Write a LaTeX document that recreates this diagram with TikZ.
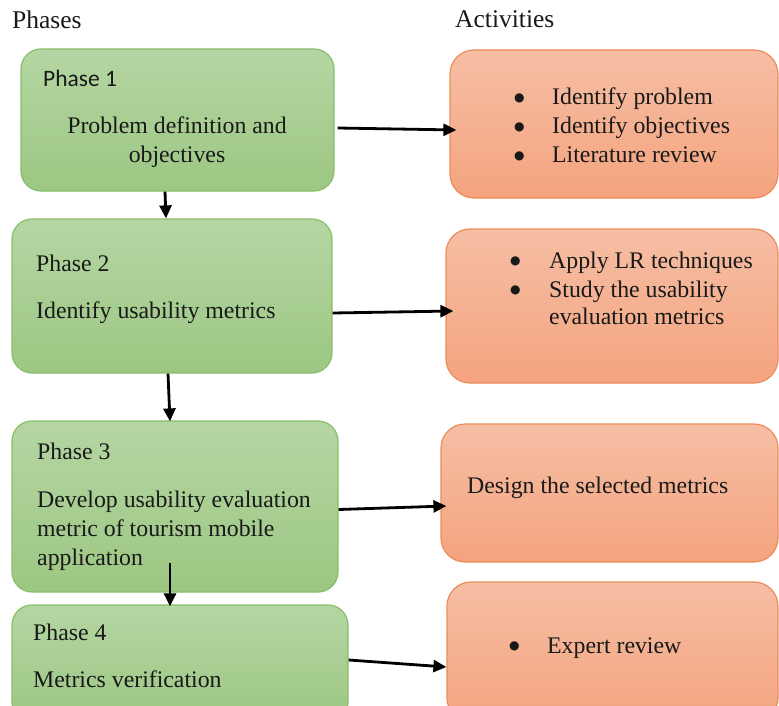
\documentclass[tikz,border=0pt]{standalone}
\usepackage{fontspec}
\setmainfont{Liberation Serif}
\newfontfamily\calfont{Carlito}
\newfontfamily\symfont{DejaVu Sans}
\usetikzlibrary{calc,arrows.meta}
\definecolor{gtop}{RGB}{181,214,163}
\definecolor{gbot}{RGB}{156,199,131}
\definecolor{gline}{RGB}{136,190,108}
\definecolor{otop}{RGB}{246,190,165}
\definecolor{obot}{RGB}{244,164,126}
\definecolor{oline}{RGB}{238,140,88}
\tikzset{
  gbox/.style={draw=gline, line width=1.2pt, rounded corners=20pt, top color=gtop, bottom color=gbot, inner sep=0pt},
  obox/.style={draw=oline, line width=1.2pt, rounded corners=24pt, top color=otop, bottom color=obot, inner sep=0pt},
  txt/.style={anchor=base west, inner sep=0pt, font=\fontsize{23.8}{29}\selectfont, text=black!90},
  ctxt/.style={anchor=base, inner sep=0pt, font=\fontsize{23.8}{29}\selectfont, text=black!90},
  htxt/.style={anchor=base west, inner sep=0pt, font=\fontsize{25.5}{30}\selectfont, text=black!90},
  stxt/.style={anchor=base west, inner sep=0pt, font=\calfont\fontsize{23.5}{28}\selectfont, text=black!90},
  arr/.style={line width=2.8pt, -{Triangle[length=13pt,width=12pt]}}
}
\newcommand{\boxat}[6]{\node[#1, minimum width={#4-#2}, minimum height={#5-#3}] (#6) at ({(#2+#4)/2},{(#3+#5)/2}) {};}
\newcommand{\bitem}[1]{\makebox[#1][l]{\raisebox{3.5pt}{\symfont\fontsize{12}{12}\selectfont ●}}}
\begin{document}
\begin{tikzpicture}[x=1pt,y=-1pt]
\clip (0,0) rectangle (779,706);
\fill[white] (0,0) rectangle (779,706);
% headers
\node[htxt] (hphases) at (12,29) {Phases};
\node[htxt] (hact) at (455,28) {Activities};
% green boxes
\boxat{gbox}{21}{49}{334}{191}{g1}
\boxat{gbox}{12}{219}{332}{373}{g2}
\boxat{gbox}{12}{421}{338}{592}{g3}
\boxat{gbox}{12}{605}{348}{722}{g4}
% orange boxes
\boxat{obox}{450}{50}{778}{198}{o1}
\boxat{obox}{446}{229}{778}{383}{o2}
\boxat{obox}{441}{424}{778}{562}{o3}
\boxat{obox}{447}{582}{778}{722}{o4}
% green texts
\node[stxt] (p1) at (43,87) {Phase 1};
\node[ctxt] (p1a) at (177,134) {Problem definition and};
\node[ctxt] (p1b) at (177,163) {objectives};
\node[txt] (p2) at (36,271) {Phase 2};
\node[txt] (p2a) at (36,318) {Identify usability metrics};
\node[txt] (p3) at (37,459) {Phase 3};
\node[txt] (p3a) at (37,507) {Develop usability evaluation};
\node[txt] (p3b) at (37,536) {metric of tourism mobile};
\node[txt] (p3c) at (37,565) {application};
\node[txt] (p4) at (33,640) {Phase 4};
\node[txt] (p4a) at (33,687) {Metrics verification};
% orange texts
\node[txt] (a1a) at (514,105) {\bitem{38pt}Identify problem};
\node[txt] (a1b) at (514,134) {\bitem{38pt}Identify objectives};
\node[txt] (a1c) at (514,163) {\bitem{38pt}Literature review};
\node[txt] (a2a) at (510,268) {\bitem{39pt}Apply LR techniques};
\node[txt] (a2b) at (510,297) {\bitem{39pt}Study the usability};
\node[txt] (a2c) at (549,324) {evaluation metrics};
\node[txt] (a3a) at (467,493) {Design the selected metrics};
\node[txt] (a4a) at (509,653) {\bitem{38pt}Expert review};
% horizontal arrows
\draw[arr] ($(g1.east)+(3,8)$) -- ($(o1.west)+(7,6)$);
\draw[arr] ($(g2.east)+(0,17)$) -- ($(o2.west)+(8,5)$);
\draw[arr] ($(g3.east)+(0,3)$) -- ($(o3.west)+(6,13)$);
\draw[arr] ($(g4.east)+(0,-3.5)$) -- ($(o4.west)+(0,15)$);
% vertical arrows
\draw[arr] ($(g1.south)+(-12.5,0)$) -- ($(g2.north)+(-6,0)$);
\draw[arr] ($(g2.south)+(-4,0)$) -- ($(g3.north)+(-5,1)$);
\draw[arr] ($(g3.south)+(-5,-30)$) -- ($(g4.north)+(-10,2)$);
\end{tikzpicture}
\end{document}
